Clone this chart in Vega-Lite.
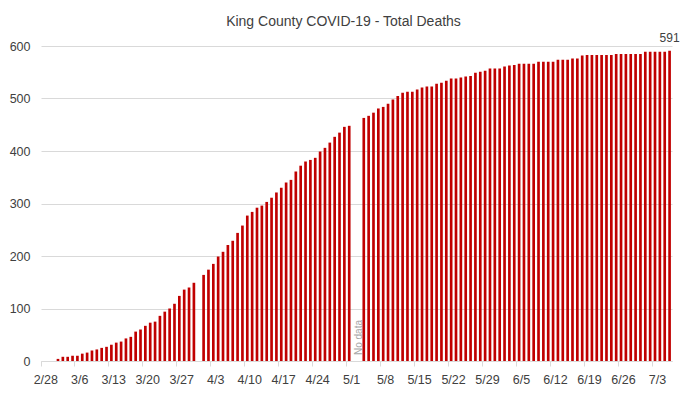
{
  "$schema": "https://vega.github.io/schema/vega-lite/v6.json",
  "width": 631,
  "height": 315,
  "autosize": {"type": "none"},
  "padding": {"left": 41, "top": 46, "right": 16, "bottom": 34},
  "background": "white",
  "title": {
    "text": "King County COVID-19 - Total Deaths",
    "font": "Liberation Sans",
    "fontSize": 14,
    "fontWeight": "normal",
    "color": "#404040",
    "anchor": "middle",
    "baseline": "alphabetic",
    "offset": -8,
    "dx": -13
  },
  "config": {
    "view": {"stroke": null},
    "font": "Liberation Sans"
  },
  "data": {
    "values": [
      {"date": "3/2", "deaths": 4}, {"date": "3/3", "deaths": 8}, {"date": "3/4", "deaths": 8},
      {"date": "3/5", "deaths": 10}, {"date": "3/6", "deaths": 10}, {"date": "3/7", "deaths": 14},
      {"date": "3/8", "deaths": 16}, {"date": "3/9", "deaths": 20}, {"date": "3/10", "deaths": 22},
      {"date": "3/11", "deaths": 25}, {"date": "3/12", "deaths": 27}, {"date": "3/13", "deaths": 31},
      {"date": "3/14", "deaths": 35}, {"date": "3/15", "deaths": 37}, {"date": "3/16", "deaths": 43},
      {"date": "3/17", "deaths": 46}, {"date": "3/18", "deaths": 56}, {"date": "3/19", "deaths": 60},
      {"date": "3/20", "deaths": 67}, {"date": "3/21", "deaths": 73}, {"date": "3/22", "deaths": 75},
      {"date": "3/23", "deaths": 86}, {"date": "3/24", "deaths": 94}, {"date": "3/25", "deaths": 100},
      {"date": "3/26", "deaths": 109}, {"date": "3/27", "deaths": 124}, {"date": "3/28", "deaths": 136},
      {"date": "3/29", "deaths": 140}, {"date": "3/30", "deaths": 149},
      {"date": "4/1", "deaths": 164}, {"date": "4/2", "deaths": 174}, {"date": "4/3", "deaths": 185},
      {"date": "4/4", "deaths": 199}, {"date": "4/5", "deaths": 208}, {"date": "4/6", "deaths": 221},
      {"date": "4/7", "deaths": 229}, {"date": "4/8", "deaths": 244}, {"date": "4/9", "deaths": 258},
      {"date": "4/10", "deaths": 277}, {"date": "4/11", "deaths": 284}, {"date": "4/12", "deaths": 292},
      {"date": "4/13", "deaths": 296}, {"date": "4/14", "deaths": 303}, {"date": "4/15", "deaths": 311},
      {"date": "4/16", "deaths": 321}, {"date": "4/17", "deaths": 330}, {"date": "4/18", "deaths": 340},
      {"date": "4/19", "deaths": 345}, {"date": "4/20", "deaths": 361}, {"date": "4/21", "deaths": 372},
      {"date": "4/22", "deaths": 380}, {"date": "4/23", "deaths": 383}, {"date": "4/24", "deaths": 387},
      {"date": "4/25", "deaths": 399}, {"date": "4/26", "deaths": 406}, {"date": "4/27", "deaths": 416},
      {"date": "4/28", "deaths": 427}, {"date": "4/29", "deaths": 435}, {"date": "4/30", "deaths": 446},
      {"date": "5/1", "deaths": 448},
      {"date": "5/4", "deaths": 463}, {"date": "5/5", "deaths": 467}, {"date": "5/6", "deaths": 473},
      {"date": "5/7", "deaths": 481}, {"date": "5/8", "deaths": 484}, {"date": "5/9", "deaths": 490},
      {"date": "5/10", "deaths": 498}, {"date": "5/11", "deaths": 505}, {"date": "5/12", "deaths": 511},
      {"date": "5/13", "deaths": 513}, {"date": "5/14", "deaths": 513}, {"date": "5/15", "deaths": 517},
      {"date": "5/16", "deaths": 521}, {"date": "5/17", "deaths": 523}, {"date": "5/18", "deaths": 523},
      {"date": "5/19", "deaths": 528}, {"date": "5/20", "deaths": 530}, {"date": "5/21", "deaths": 534},
      {"date": "5/22", "deaths": 538}, {"date": "5/23", "deaths": 538}, {"date": "5/24", "deaths": 540},
      {"date": "5/25", "deaths": 542}, {"date": "5/26", "deaths": 543}, {"date": "5/27", "deaths": 549},
      {"date": "5/28", "deaths": 551}, {"date": "5/29", "deaths": 553}, {"date": "5/30", "deaths": 557},
      {"date": "5/31", "deaths": 557}, {"date": "6/1", "deaths": 557}, {"date": "6/2", "deaths": 561},
      {"date": "6/3", "deaths": 563}, {"date": "6/4", "deaths": 564}, {"date": "6/5", "deaths": 566},
      {"date": "6/6", "deaths": 566}, {"date": "6/7", "deaths": 566}, {"date": "6/8", "deaths": 566},
      {"date": "6/9", "deaths": 570}, {"date": "6/10", "deaths": 570}, {"date": "6/11", "deaths": 570},
      {"date": "6/12", "deaths": 570}, {"date": "6/13", "deaths": 574}, {"date": "6/14", "deaths": 574},
      {"date": "6/15", "deaths": 574}, {"date": "6/16", "deaths": 576}, {"date": "6/17", "deaths": 576},
      {"date": "6/18", "deaths": 582}, {"date": "6/19", "deaths": 583}, {"date": "6/20", "deaths": 583},
      {"date": "6/21", "deaths": 583}, {"date": "6/22", "deaths": 583}, {"date": "6/23", "deaths": 583},
      {"date": "6/24", "deaths": 583}, {"date": "6/25", "deaths": 585}, {"date": "6/26", "deaths": 585},
      {"date": "6/27", "deaths": 585}, {"date": "6/28", "deaths": 585}, {"date": "6/29", "deaths": 585},
      {"date": "6/30", "deaths": 585}, {"date": "7/1", "deaths": 589}, {"date": "7/2", "deaths": 589},
      {"date": "7/3", "deaths": 589}, {"date": "7/4", "deaths": 589}, {"date": "7/5", "deaths": 589},
      {"date": "7/6", "deaths": 591}
    ]
  },
  "encoding": {
    "x": {
      "field": "date",
      "type": "ordinal",
      "sort": null,
      "scale": {
        "type": "band",
        "paddingInner": 0,
        "paddingOuter": 0,
        "domain": ["2/28","2/29",
          "3/1","3/2","3/3","3/4","3/5","3/6","3/7","3/8","3/9","3/10","3/11","3/12","3/13","3/14","3/15","3/16","3/17","3/18","3/19","3/20","3/21","3/22","3/23","3/24","3/25","3/26","3/27","3/28","3/29","3/30","3/31",
          "4/1","4/2","4/3","4/4","4/5","4/6","4/7","4/8","4/9","4/10","4/11","4/12","4/13","4/14","4/15","4/16","4/17","4/18","4/19","4/20","4/21","4/22","4/23","4/24","4/25","4/26","4/27","4/28","4/29","4/30",
          "5/1","5/2","5/3","5/4","5/5","5/6","5/7","5/8","5/9","5/10","5/11","5/12","5/13","5/14","5/15","5/16","5/17","5/18","5/19","5/20","5/21","5/22","5/23","5/24","5/25","5/26","5/27","5/28","5/29","5/30","5/31",
          "6/1","6/2","6/3","6/4","6/5","6/6","6/7","6/8","6/9","6/10","6/11","6/12","6/13","6/14","6/15","6/16","6/17","6/18","6/19","6/20","6/21","6/22","6/23","6/24","6/25","6/26","6/27","6/28","6/29","6/30",
          "7/1","7/2","7/3","7/4","7/5","7/6"]
      },
      "axis": {
        "title": null,
        "values": ["2/28","3/6","3/13","3/20","3/27","4/3","4/10","4/17","4/24","5/1","5/8","5/15","5/22","5/29","6/5","6/12","6/19","6/26","7/3"],
        "bandPosition": 0,
        "labelOffset": 2.4,
        "labelAngle": 0,
        "labelFont": "Liberation Sans",
        "labelFontSize": 12.5,
        "labelColor": "#404040",
        "labelPadding": 7,
        "labelBaseline": "top",
        "domainColor": "#d9d9d9",
        "tickColor": "#d9d9d9",
        "tickSize": 5,
        "grid": false
      }
    },
    "y": {
      "field": "deaths",
      "type": "quantitative",
      "scale": {"domain": [0, 600], "nice": false},
      "axis": {
        "title": null,
        "values": [0, 100, 200, 300, 400, 500, 600],
        "domain": false,
        "ticks": false,
        "grid": true,
        "gridColor": "#d9d9d9",
        "labelFont": "Liberation Sans",
        "labelFontSize": 12.5,
        "labelColor": "#404040",
        "labelPadding": 11
      }
    }
  },
  "layer": [
    {
      "mark": {"type": "bar", "color": "#c00000", "width": {"band": 0.55}}
    },
    {
      "transform": [{"filter": "datum.date === '7/6'"}],
      "mark": {"type": "text", "baseline": "alphabetic", "dy": -9, "fontSize": 12, "font": "Liberation Sans", "color": "#404040"},
      "encoding": {"text": {"field": "deaths", "type": "quantitative"}}
    },
    {
      "data": {"values": [{"date": "5/2", "label": "No data", "deaths": 0}]},
      "mark": {"type": "text", "angle": 270, "align": "left", "baseline": "middle", "dx": 6, "dy": 4.5, "fontSize": 10, "font": "Liberation Sans", "color": "#a6a6a6"},
      "encoding": {
        "text": {"field": "label", "type": "nominal"}
      }
    }
  ]
}
